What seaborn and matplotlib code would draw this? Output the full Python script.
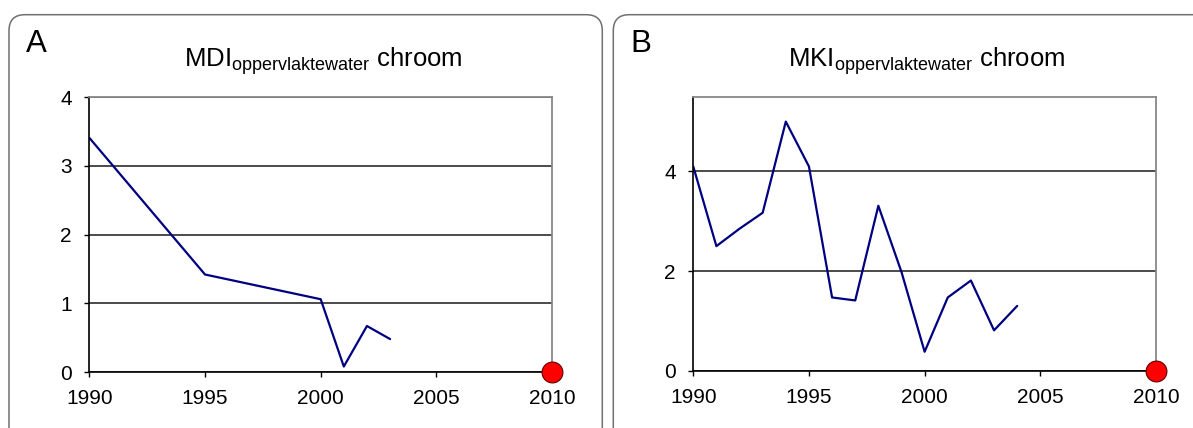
import matplotlib
matplotlib.use('Agg')
import matplotlib.pyplot as plt
from matplotlib.patches import FancyBboxPatch
import seaborn as sns
import pandas as pd

# Data
mdi_years = [1990, 1995, 2000, 2001, 2002, 2003]
mdi_values = [3.41, 1.42, 1.06, 0.08, 0.67, 0.48]

mki_years = list(range(1990, 2005))
mki_values = [4.10, 2.50, 2.85, 3.17, 5.00, 4.10, 1.47, 1.41, 3.31, 1.98,
              0.38, 1.47, 1.81, 0.81, 1.30]

target_year = [2010]
target_value = [0]

x_ticks = [1990, 1995, 2000, 2005, 2010]

sns.set_theme(style="white")
plt.rcParams['font.family'] = ['Liberation Sans', 'DejaVu Sans']
plt.rcParams['mathtext.fontset'] = 'custom'
plt.rcParams['mathtext.rm'] = 'Liberation Sans'
plt.rcParams['mathtext.it'] = 'Liberation Sans'
plt.rcParams['text.color'] = 'black'
plt.rcParams['xtick.color'] = 'black'
plt.rcParams['ytick.color'] = 'black'

fig = plt.figure(figsize=(11.93, 4.28), dpi=100)

# rounded panel frames (inches)
for x0, w in [(0.09, 5.933), (6.133, 6.3)]:
    box = FancyBboxPatch((x0, -0.3), w, 4.433, boxstyle="round,pad=0,rounding_size=0.16",
                         transform=fig.dpi_scale_trans, facecolor='none',
                         edgecolor='#707070', linewidth=1.1, zorder=-1)
    fig.patches.append(box)

ax_a = fig.add_axes([0.0749, 0.1308, 0.3878, 0.6418])
ax_b = fig.add_axes([0.5811, 0.1339, 0.3879, 0.6402])

panels = [
    (ax_a, mdi_years, mdi_values, [0, 1, 2, 3, 4], 4, 'MDI$_{\\mathrm{oppervlaktewater}}$ chroom', 'A', 0.271, 0.0218),
    (ax_b, mki_years, mki_values, [0, 2, 4], 5.5, 'MKI$_{\\mathrm{oppervlaktewater}}$ chroom', 'B', 0.7768, 0.528),
]

for ax, yrs, vals, yticks, ytop, title, letter, tx, lx in panels:
    ax.set_facecolor('none')
    df = pd.DataFrame({'year': yrs, 'value': vals})
    sns.lineplot(data=df, x='year', y='value', ax=ax, color='#000080', linewidth=1.6)
    ax.plot(target_year, target_value, 'o', color='red', markeredgecolor='#600000',
            markeredgewidth=0.8, markersize=15, clip_on=False, zorder=5)
    ax.set_xlim(1990, 2010)
    ax.set_ylim(0, ytop)
    ax.set_xticks(x_ticks)
    ax.set_yticks(yticks)
    ax.set_xlabel('')
    ax.set_ylabel('')
    ax.yaxis.grid(True, color='#1a1a1a', linewidth=1.1)
    ax.set_axisbelow(True)
    for s in ['left', 'bottom']:
        ax.spines[s].set_color('black')
        ax.spines[s].set_linewidth(1.2)
    for s in ['top', 'right']:
        ax.spines[s].set_color('#888888')
        ax.spines[s].set_linewidth(1.3)
    ax.tick_params(axis='both', direction='out', length=3.5, width=1, color='black',
                   labelsize=15, bottom=True, left=True)
    ax.tick_params(axis='x', pad=9)
    ax.tick_params(axis='y', pad=9)
    fig.text(tx, 1 - 66.7 / 428, title, ha='center', va='baseline', fontsize=18.5)
    fig.text(lx, 1 - 51.7 / 428, letter, ha='left', va='baseline', fontsize=22.5)

fig.savefig('out.png', dpi=100)
